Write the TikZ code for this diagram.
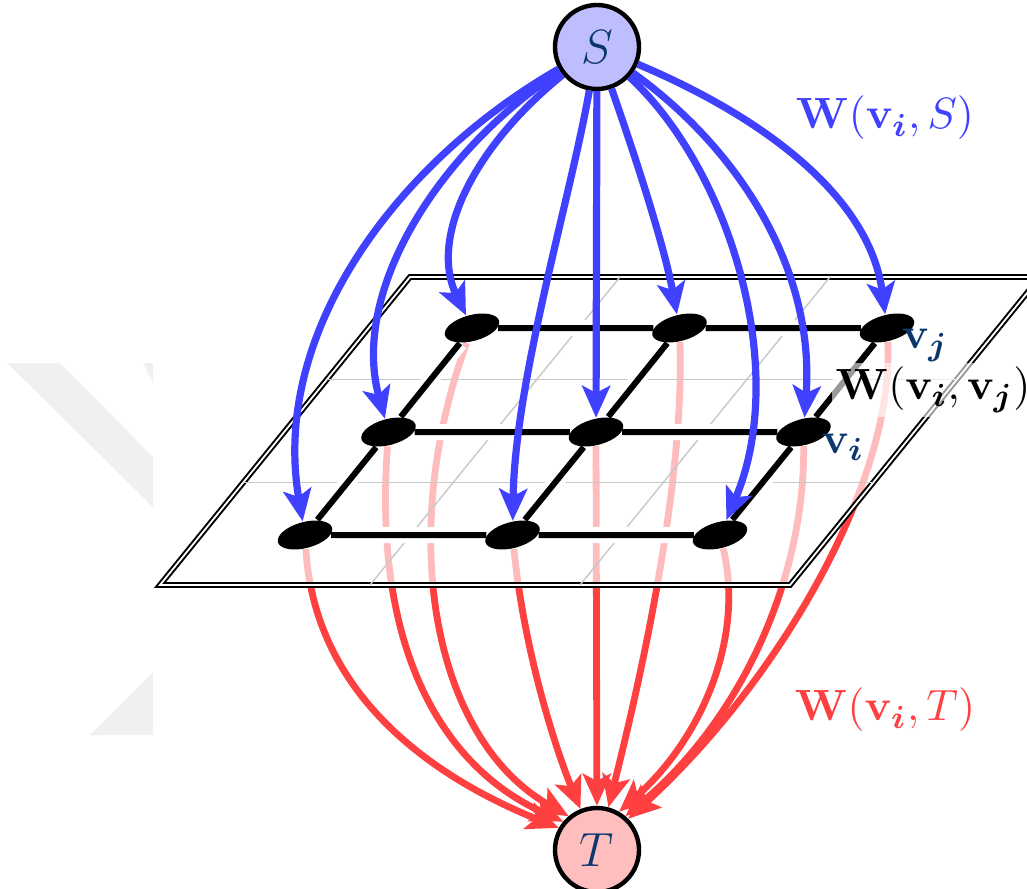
\documentclass[tikz,border=0pt]{standalone}
\usepackage{bm}
\usetikzlibrary{arrows.meta,shapes.geometric}
\definecolor{sblue}{RGB}{64,64,255}
\definecolor{tred}{RGB}{255,64,64}
\definecolor{sfill}{RGB}{190,190,255}
\definecolor{tfill}{RGB}{255,190,190}
\definecolor{nodetext}{RGB}{10,55,110}
\definecolor{wm}{RGB}{240,240,240}
\definecolor{gridgray}{RGB}{200,200,200}
\pgfdeclarelayer{bg}
\pgfsetlayers{bg,main}
\begin{document}
\begin{tikzpicture}[x=0.25pt,y=-0.25pt,
  term/.style={circle,draw=black,line width=1.1pt,minimum size=21pt,inner sep=0pt,text=nodetext,font=\fontsize{12}{14}\selectfont},
  vert/.style={ellipse,fill=black,minimum width=14pt,minimum height=6.5pt,inner sep=0pt,rotate=15},
  sarrow/.style={draw=sblue,line width=1.8pt,-{Stealth[length=8pt,width=7pt,inset=1.8pt]}},
  tarrow/.style={draw=tred,line width=1.7pt,-{Stealth[length=8pt,width=7pt,inset=1.8pt]}},
  gridedge/.style={line width=1.5pt,preaction={draw=white,line width=4pt}},
  gridline/.style={draw=gridgray,line width=0.35pt},
  plane/.style={draw=black,double=white,line width=0.5pt,double distance=0.45pt,line join=miter},
  lbl/.style={font=\fontsize{11}{13}\selectfont,inner sep=1pt},
]
\useasboundingbox (0,0) rectangle (1027,888);

% terminals
\node[term,fill=sfill] (S) at (597,47) {$S$};
\node[term,fill=tfill] (T) at (597,850) {$T$};

% lattice vertices
\node[vert] (a1) at (472,328) {};
\node[vert] (a2) at (679.5,328) {};
\node[vert] (a3) at (887,328) {};
\node[vert] (b1) at (388.5,432) {};
\node[vert] (b2) at (596,432) {};
\node[vert] (b3) at (803.5,432) {};
\node[vert] (c1) at (305,535) {};
\node[vert] (c2) at (512.5,535) {};
\node[vert] (c3) at (720,535) {};

\begin{pgfonlayer}{bg}
  % watermark
  \fill[wm] (7,363) -- (60,363) -- (153,457) -- (153,507) -- cycle;
  \fill[wm] (143,363) -- (153,363) -- (153,383) -- cycle;
  \fill[wm] (90,735) -- (153,672) -- (153,735) -- cycle;
  % sink arrows
  \draw[tarrow] (c1) .. controls (315,700) and (440,780) .. (T.150);
  \draw[tarrow] (b1) .. controls (372,660) and (450,770) .. (T.140);
  \draw[tarrow] (a1) .. controls (395,540) and (435,740) .. (T.130);
  \draw[tarrow] (c2) .. controls (525,660) and (560,760) .. (T.112);
  \draw[tarrow] (b2) -- (T);
  \draw[tarrow] (a2) .. controls (685,500) and (630,720) .. (T.75);
  \draw[tarrow] (c3) .. controls (745,640) and (700,740) .. (T.60);
  \draw[tarrow] (b3) .. controls (805,580) and (740,720) .. (T.50);
  \draw[tarrow] (a3) .. controls (895,480) and (780,680) .. (T.45);
  % plane
  \fill[white,fill opacity=0.65] (160,585) -- (790,585) -- (1040,277) -- (410,277) -- cycle;
  \draw[plane] (160,585) -- (790,585) -- (1040,277) -- (410,277) -- cycle;
  \draw[gridline] (326.7,379.7) -- (956.7,379.7);
  \draw[gridline] (243.3,482.3) -- (873.3,482.3);
  \draw[gridline] (370,585) -- (620,277);
  \draw[gridline] (580,585) -- (830,277);
  % lattice edges
  \draw[gridedge] (a1) -- (a2);
  \draw[gridedge] (a2) -- (a3);
  \draw[gridedge] (b1) -- (b2);
  \draw[gridedge] (b2) -- (b3);
  \draw[gridedge] (c1) -- (c2);
  \draw[gridedge] (c2) -- (c3);
  \draw[gridedge] (c1) -- (b1);
  \draw[gridedge] (b1) -- (a1);
  \draw[gridedge] (c2) -- (b2);
  \draw[gridedge] (b2) -- (a2);
  \draw[gridedge] (c3) -- (b3);
  \draw[gridedge] (b3) -- (a3);
\end{pgfonlayer}

% source arrows
\draw[sarrow] (S) .. controls (400,160) and (270,330) .. (c1);
\draw[sarrow] (S) .. controls (440,150) and (350,290) .. (b1);
\draw[sarrow] (S) .. controls (470,150) and (430,240) .. (a1);
\draw[sarrow] (S) .. controls (570,200) and (515,380) .. (c2);
\draw[sarrow] (S) -- (b2);
\draw[sarrow] (S) .. controls (640,170) and (665,250) .. (a2);
\draw[sarrow] (S) .. controls (730,170) and (790,370) .. (c3);
\draw[sarrow] (S) .. controls (740,150) and (815,270) .. (b3);
\draw[sarrow] (S) .. controls (770,120) and (870,200) .. (a3);

% labels
\node[lbl,text=sblue] (lS) at (885,118) {$\mathbf{W}(\mathbf{v}_{\bm{i}},S)$};
\node[lbl,text=tred] (lT) at (885,710) {$\mathbf{W}(\mathbf{v}_{\bm{i}},T)$};
\node[lbl,fill=white,fill opacity=0.6,text opacity=1] (lij) at (933,390) {$\mathbf{W}(\mathbf{v}_{\bm{i}},\mathbf{v}_{\bm{j}})$};
\node[lbl,text=nodetext] (lj) at (925,345) {$\mathbf{v}_{\bm{j}}$};
\node[lbl,text=nodetext] (li) at (843,447) {$\mathbf{v}_{\bm{i}}$};
\end{tikzpicture}
\end{document}
